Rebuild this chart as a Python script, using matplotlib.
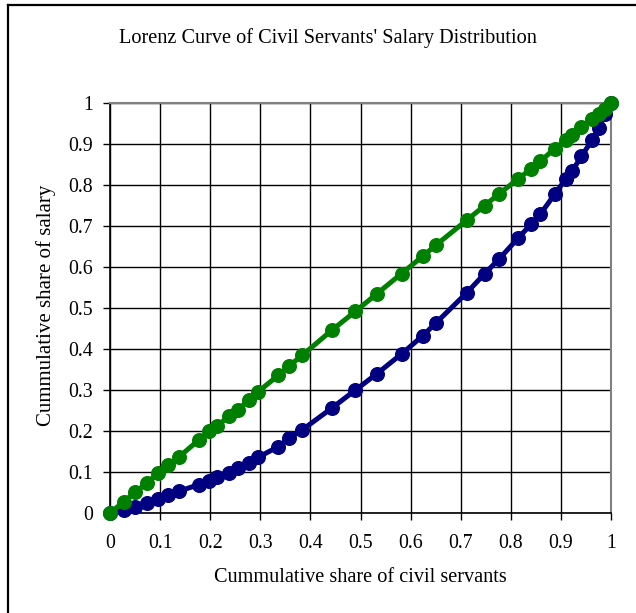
import matplotlib
matplotlib.use("Agg")
import matplotlib.pyplot as plt
from matplotlib.lines import Line2D

plt.rcParams['font.family'] = ['Liberation Serif', 'DejaVu Serif']

title = "Lorenz Curve of Civil Servants' Salary Distribution"
xlabel = "Cummulative share of civil servants"
ylabel = "Cummulative share of salary"

share_servants = [0, 0.028, 0.05, 0.073, 0.095, 0.116, 0.137, 0.177, 0.198, 0.214,
                  0.237, 0.255, 0.277, 0.296, 0.336, 0.357, 0.384, 0.444, 0.490, 0.532,
                  0.582, 0.624, 0.651, 0.712, 0.748, 0.777, 0.815, 0.841, 0.859, 0.888,
                  0.910, 0.923, 0.941, 0.962, 0.976, 0.988, 1.0]

salary_blue = [0, 0.007, 0.015, 0.025, 0.034, 0.043, 0.053, 0.069, 0.079, 0.087,
               0.098, 0.109, 0.123, 0.136, 0.162, 0.182, 0.203, 0.257, 0.300, 0.339,
               0.388, 0.432, 0.464, 0.537, 0.584, 0.620, 0.671, 0.705, 0.729, 0.778,
               0.815, 0.835, 0.870, 0.909, 0.940, 0.972, 1.0]

salary_green = [0, 0.028, 0.051, 0.072, 0.097, 0.116, 0.136, 0.178, 0.199, 0.212,
                0.236, 0.252, 0.275, 0.296, 0.336, 0.358, 0.385, 0.447, 0.492, 0.534,
                0.584, 0.626, 0.654, 0.714, 0.750, 0.779, 0.815, 0.840, 0.858, 0.889,
                0.910, 0.921, 0.942, 0.960, 0.973, 0.985, 1.0]

ticks = [0, 0.1, 0.2, 0.3, 0.4, 0.5, 0.6, 0.7, 0.8, 0.9, 1]
tick_labels = ["0", "0.1", "0.2", "0.3", "0.4", "0.5", "0.6", "0.7", "0.8", "0.9", "1"]

W, H = 636, 613
fig = plt.figure(figsize=(W / 100, H / 100), dpi=100)
ax = fig.add_axes([110 / W, 1 - 513 / H, (611 - 110) / W, (513 - 103) / H])

ax.plot(share_servants, salary_blue, color='#000080', lw=3.6, marker='o',
        markersize=9.8, clip_on=False, zorder=3)
ax.plot(share_servants, salary_green, color='#008000', lw=3.6, marker='o',
        markersize=9.8, clip_on=False, zorder=4)

ax.set_xlim(0, 1)
ax.set_ylim(0, 1)
ax.set_xticks(ticks)
ax.set_yticks(ticks)
ax.set_xticklabels(tick_labels, fontsize=14.3)
ax.set_yticklabels(tick_labels, fontsize=14.3)
ax.grid(True, color='black', lw=1.0)
ax.set_axisbelow(True)
ax.tick_params(axis='x', direction='out', length=5, width=1, pad=10)
ax.tick_params(axis='y', direction='out', length=5, width=1, pad=7)
for s in ['left', 'bottom']:
    ax.spines[s].set_color('black')
    ax.spines[s].set_linewidth(1.2)
for s in ['top', 'right']:
    ax.spines[s].set_color('#808080')
    ax.spines[s].set_linewidth(1.5)

fig.text(328 / W, 1 - 38 / H, title, ha='center', va='center', fontsize=14.6)
fig.text(360 / W, 1 - 578 / H, xlabel, ha='center', va='center', fontsize=14.6)
fig.text(46 / W, 1 - 305 / H, ylabel, ha='center', va='center', fontsize=15,
         rotation=90)

# outer chart frame (right and bottom edges fall outside the image)
fig.add_artist(Line2D([8 / W, 8 / W], [-0.05, 1 - 5 / H], color='black', lw=1.6,
                      transform=fig.transFigure))
fig.add_artist(Line2D([8 / W, 1.05], [1 - 5 / H, 1 - 5 / H], color='black', lw=1.6,
                      transform=fig.transFigure))

fig.savefig("out.png", dpi=100)
